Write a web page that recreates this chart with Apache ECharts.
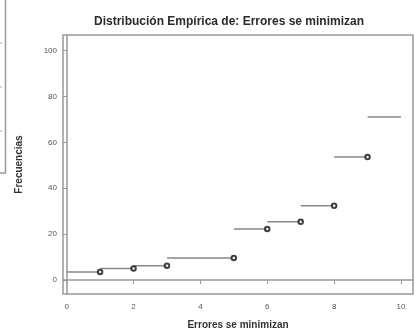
<!DOCTYPE html>
<html>
<head>
<meta charset="utf-8">
<script src="https://cdn.jsdelivr.net/npm/echarts@6/dist/echarts.min.js"></script>
<style>html,body{margin:0;padding:0;background:#fff;}#c{width:414px;height:329px;}</style>
</head>
<body>
<div id="c"></div>
<script>
// Step breakpoints (x) and cumulative frequency of each step
const breakX = [0, 1, 2, 3, 5, 6, 7, 8, 9, 10];
const stepValues = [3.6, 5.1, 6.3, 9.7, 22.3, 25.4, 32.4, 53.6, 71.0];
const titleText = 'Distribución Empírica de: Errores se minimizan';
const xName = 'Errores se minimizan';
const yName = 'Frecuencias';

const lineData = [];
for (let i = 0; i < stepValues.length; i++) {
  lineData.push([breakX[i], stepValues[i]]);
  lineData.push([breakX[i + 1], stepValues[i]]);
  lineData.push('-');
}
const pointData = [];
for (let i = 0; i < stepValues.length - 1; i++) {
  pointData.push([breakX[i + 1], stepValues[i]]);
}

const chart = echarts.init(document.getElementById('c'), null, {renderer: 'canvas'});
chart.setOption({
  animation: false,
  backgroundColor: '#fff',
  title: {
    text: titleText,
    left: 224, top: 11, textAlign: 'center',
    textStyle: {fontFamily: 'Liberation Sans', fontSize: 12, fontWeight: 'bold', color: '#2a2a2a'}
  },
  grid: {left: 63, top: 35, right: 1, bottom: 35, outerBoundsMode: 'none', containLabel: false,
         show: true, borderColor: '#999', borderWidth: 1.5, backgroundColor: 'transparent'},
  xAxis: {
    type: 'value', min: -0.11, max: 10.36, splitNumber: 5,
    name: xName, nameLocation: 'middle', nameGap: 26,
    nameTextStyle: {fontFamily: 'Liberation Sans', fontSize: 10, fontWeight: 'bold', color: '#333'},
    axisLine: {show: true, lineStyle: {color: '#999', width: 1.5}},
    axisTick: {show: true, inside: false, length: 4, lineStyle: {color: '#999'}},
    axisLabel: {showMinLabel: false, showMaxLabel: false, fontFamily: 'Liberation Sans', fontSize: 8, color: '#555', margin: 9},
    splitLine: {show: false}
  },
  yAxis: {
    type: 'value', min: -6, max: 106.7, splitNumber: 5,
    name: yName, nameLocation: 'middle', nameRotate: 90, nameGap: 39,
    nameTextStyle: {fontFamily: 'Liberation Sans', fontSize: 10, fontWeight: 'bold', color: '#333'},
    axisLine: {show: true, lineStyle: {color: '#999', width: 1.5}},
    axisTick: {show: true, inside: false, length: 4, lineStyle: {color: '#999'}},
    axisLabel: {showMinLabel: false, showMaxLabel: false, fontFamily: 'Liberation Sans', fontSize: 8, color: '#555', margin: 6},
    splitLine: {show: false}
  },
  series: [
    {
      type: 'line', data: lineData, connectNulls: false, showSymbol: false, symbol: 'none',
      lineStyle: {color: '#888', width: 1.5}, silent: true
    },
    {
      type: 'scatter', data: pointData, symbol: 'emptyCircle', symbolSize: 4.5,
      itemStyle: {color: '#111', borderColor: '#111', borderWidth: 1}, z: 5
    }
  ],
  graphic: [
    {type: 'line', shape: {x1: 5.5, y1: 0, x2: 5.5, y2: 173}, style: {stroke: '#999', lineWidth: 1.5}},
    {type: 'line', shape: {x1: 0, y1: 173, x2: 6, y2: 173}, style: {stroke: '#999', lineWidth: 1.5}},
    {type: 'line', shape: {x1: 0, y1: 43, x2: 2, y2: 43}, style: {stroke: '#aaa', lineWidth: 1}},
    {type: 'line', shape: {x1: 0, y1: 87, x2: 2, y2: 87}, style: {stroke: '#aaa', lineWidth: 1}},
    {type: 'line', shape: {x1: 0, y1: 131, x2: 2, y2: 131}, style: {stroke: '#aaa', lineWidth: 1}}
  ]
});
</script>
</body>
</html>
